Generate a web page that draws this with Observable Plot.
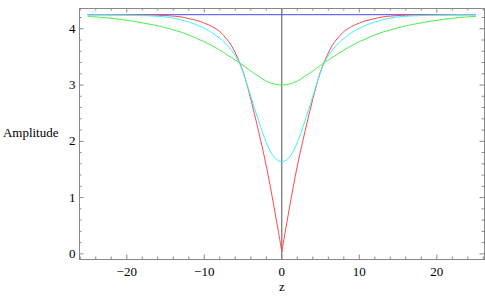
<!DOCTYPE html>
<html><head><meta charset="utf-8">
<script src="https://cdn.jsdelivr.net/npm/d3@7"></script>
<script src="https://cdn.jsdelivr.net/npm/@observablehq/plot@0.6"></script>
<style>
body{margin:0;background:#fff}
svg{display:block}
#chart svg, #chart svg text{font-family:"Liberation Serif","Times New Roman",serif !important;font-size:13px}
</style>
</head><body><div id="chart"></div>
<script>
// half-profile sample positions (curves are symmetric about z = 0)
const zHalf = [0,0.5,1,1.5,2,2.5,3,3.5,4,4.5,5,5.5,6,6.5,7,7.5,8,9,10,11,12,13,14,15,17,19,21,23,25];
const redHalf = [0.04,0.44,0.83,1.21,1.56,1.88,2.18,2.47,2.75,3.01,3.24,3.42,3.57,3.70,3.80,3.88,3.95,4.04,4.10,4.15,4.18,4.21,4.225,4.235,4.245,4.25,4.25,4.25,4.25];
const cyanHalf = [1.635,1.66,1.72,1.83,1.98,2.16,2.37,2.58,2.80,3.02,3.23,3.40,3.52,3.62,3.70,3.77,3.83,3.93,4.01,4.07,4.12,4.16,4.19,4.21,4.23,4.24,4.245,4.25,4.25];
const greenHalf = [3.00,3.005,3.02,3.04,3.07,3.11,3.16,3.20,3.25,3.30,3.35,3.40,3.44,3.49,3.53,3.58,3.62,3.70,3.77,3.83,3.89,3.94,3.98,4.02,4.08,4.13,4.17,4.20,4.22];
const blueZ = [-25, 25];
const blueVals = [4.25, 4.25];

const xMajor = [-20,-10,0,10,20];
const xMinor = [-26,-24,-22,-18,-16,-14,-12,-8,-6,-4,-2,2,4,6,8,12,14,16,18,22,24,26];
const yMajor = [0,1,2,3,4];
const yMinor = [0.2,0.4,0.6,0.8,1.2,1.4,1.6,1.8,2.2,2.4,2.6,2.8,3.2,3.4,3.6,3.8,4.2];

function mirror(zs, vs) {
  const left = zs.slice(1).map((z, i) => ({z: -z, v: vs[i + 1], side: "L"})).reverse();
  const right = zs.map((z, i) => ({z, v: vs[i], side: "R"}));
  return left.concat(right);
}
const red = mirror(zHalf, redHalf).concat([{z: 0, v: redHalf[0], side: "L"}]).sort((a,b)=>a.z-b.z);
const cyan = mirror(zHalf, cyanHalf);
const green = mirror(zHalf, greenHalf);
const blue = blueZ.map((z, i) => ({z, v: blueVals[i]}));

const W = 485, H = 300, mL = 79, mR = 1, mT = 8, mB = 41;
const plotW = W - mL - mR, plotH = H - mT - mB;
const frameC = "#888";

const chart = Plot.plot({
  width: W, height: H,
  marginLeft: mL, marginRight: mR, marginTop: mT, marginBottom: mB,
  style: {fontFamily: "Liberation Serif", fontSize: "13px", background: "white", color: "#000"},
  x: {domain: [-26.1, 26.15]},
  y: {domain: [-0.1, 4.36]},
  marks: [
    Plot.ruleX([0], {stroke: "#555", strokeWidth: 1}),
    Plot.line(blue, {x: "z", y: "v", stroke: "#4848ff", strokeWidth: 1}),
    Plot.line(red, {x: "z", y: "v", z: "side", stroke: "#ff4848", strokeWidth: 1, curve: "catmull-rom"}),
    Plot.line(green, {x: "z", y: "v", stroke: "#48f048", strokeWidth: 1, curve: "catmull-rom"}),
    Plot.line(cyan, {x: "z", y: "v", stroke: "#38f5f5", strokeWidth: 1, curve: "catmull-rom"}),
    Plot.frame({stroke: frameC}),
    // inward frame ticks
    Plot.tickX(xMajor, {x: d => d, stroke: frameC, insetTop: plotH - 4.5}),
    Plot.tickX(xMajor, {x: d => d, stroke: frameC, insetBottom: plotH - 4.5}),
    Plot.tickX(xMinor, {x: d => d, stroke: frameC, insetTop: plotH - 2.5}),
    Plot.tickX(xMinor, {x: d => d, stroke: frameC, insetBottom: plotH - 2.5}),
    Plot.tickY(yMajor, {y: d => d, stroke: frameC, insetRight: plotW - 4.5}),
    Plot.tickY(yMajor, {y: d => d, stroke: frameC, insetLeft: plotW - 4.5}),
    Plot.tickY(yMinor, {y: d => d, stroke: frameC, insetRight: plotW - 2.5}),
    Plot.tickY(yMinor, {y: d => d, stroke: frameC, insetLeft: plotW - 2.5}),
    Plot.axisX(xMajor, {tickSize: 0, tickPadding: 7, label: null, tickFormat: d3.format("d")}),
    Plot.axisY(yMajor, {tickSize: 0, tickPadding: 4, label: null, tickFormat: d3.format("d")}),
    Plot.text(["z"], {frameAnchor: "bottom", dy: 27, lineAnchor: "middle"}),
    Plot.text(["Amplitude"], {frameAnchor: "left", dx: -21, dy: -1.5, textAnchor: "end", lineAnchor: "middle"})
  ]
});
document.getElementById("chart").appendChild(chart);
</script>
</body></html>
